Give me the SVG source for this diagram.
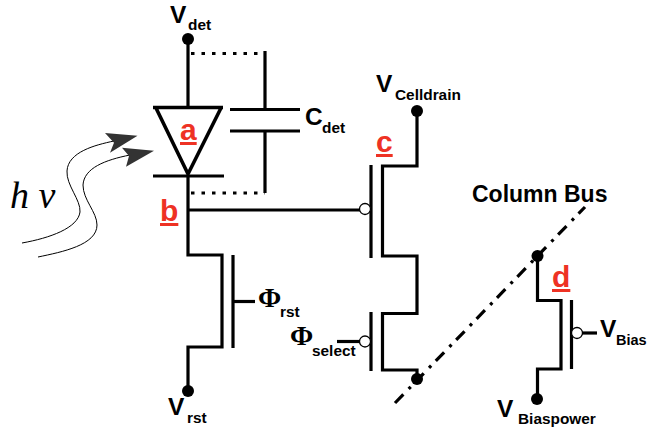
<svg xmlns="http://www.w3.org/2000/svg" width="647" height="429" viewBox="0 0 647 429">
<style>
.w{fill:none;stroke:#000;stroke-width:3.2;stroke-linejoin:miter;stroke-linecap:butt}
.d{fill:#000}
.o{fill:#fff;stroke:#000;stroke-width:1.3}
.dot{fill:none;stroke:#000;stroke-width:3;stroke-dasharray:3.5 7}
text{font-family:"Liberation Sans",Arial,sans-serif;font-weight:700;fill:#000}
.V{font-size:24.5px}
.s{font-size:15.4px}
.r{font-size:30px;fill:#ee3224;text-decoration:underline}
.p{font-family:"Liberation Serif","Times New Roman",serif;font-size:28px}
.ray{fill:none;stroke:#000;stroke-width:1}
.head{fill:#333}
.hv{font-family:"Liberation Serif","Times New Roman",serif;font-size:38px;font-style:italic;font-weight:400}
</style>
<rect width="647" height="429" fill="#fff"/>
<g id="connectors">
<path class="w" d="M188 40V107"/>
<path class="w" d="M188 175V255H222V347H188V390"/>
<path class="w" d="M188 210H360"/>
<path class="w" d="M417 110V166H382.500V256H417V313.500H382.500V370H417V380"/>
<path class="w" d="M537.500 256V300.500H561V369H537.500V398"/>
<path class="dot" d="M191 53.500H265"/>
<path class="dot" d="M191 193H265"/>
<path class="w" d="M265 51V110M265 131V193"/>
<path class="w" d="M337 341.500H360"/>
<path class="w" d="M233 301.500H255"/>
<path class="w" d="M581 333H597"/>
<path fill="none" stroke="#000" stroke-width="3.200" stroke-dasharray="12 7.600 3 6.700" d="M395 403L585 207"/>
</g>
<g id="node-vdet"><circle class="d" cx="188" cy="39" r="6"/><text class="V" x="170" y="22.500">V</text><text class="s" x="188" y="30">det</text></g>
<g id="node-diode"><path fill="none" stroke="#000" stroke-width="3.600" d="M153 107.500H223M156 108L188 174L221 108"/><path class="w" d="M153 176H224"/><text class="r" x="180" y="140">a</text></g>
<g id="node-cdet"><path class="w" d="M230 109.500H300M230 131H300"/><text class="V" x="305" y="125">C</text><text class="s" x="322" y="133">det</text></g>
<g id="node-b"><text class="r" x="160" y="221">b</text></g>
<g id="node-rst"><path class="w" d="M233 255V348"/><text class="p" x="258" y="307">Φ</text><text class="s" x="280" y="316.500">rst</text></g>
<g id="node-vrst"><circle class="d" cx="188" cy="391" r="6"/><text class="V" x="168" y="415">V</text><text class="s" x="187" y="423">rst</text></g>
<g id="node-c"><path class="w" d="M371 165V258"/><circle class="o" cx="365" cy="209" r="5.500"/><text class="r" x="376" y="152">c</text></g>
<g id="node-select"><path class="w" d="M371 312V371"/><circle class="o" cx="365" cy="341.500" r="5.500"/><text class="p" x="290" y="345">Φ</text><text class="s" x="312" y="356">select</text></g>
<g id="node-vcell"><circle class="d" cx="417" cy="111" r="6"/><text class="V" x="376" y="92">V</text><text class="s" x="395" y="99.500">Celldrain</text></g>
<g id="node-bus-end"><circle class="d" cx="417" cy="379" r="6"/></g>
<g id="node-bus-top"><circle class="d" cx="537.500" cy="256" r="6"/><text x="472" y="202" font-size="23">Column Bus</text></g>
<g id="node-d"><path class="w" d="M571.500 300V369"/><circle class="o" cx="577" cy="333" r="5.500"/><text class="r" x="552" y="287">d</text></g>
<g id="node-vbias"><text class="V" x="600" y="337">V</text><text class="s" x="616" y="345" style="font-size:14.500px">Bias</text></g>
<g id="node-vbiaspower"><circle class="d" cx="537" cy="399" r="6"/><text class="V" x="497" y="417">V</text><text class="s" x="518" y="424">Biaspower</text></g>
<g id="node-light">
<path class="ray" d="M22 243C50 238 78 228 80 212C81 200 66 185 67 171C68 152 95 145 114 141"/>
<path class="ray" d="M38 257C62 252 97 245 97 225C97 212 83 200 83 185C84 168 105 160 130 155"/>
<path class="head" d="M105 133L137.500 135.700L110 152.700L114 142.700Z"/>
<path class="head" d="M122 147.700L154 150.700L126 166.700L129 156Z"/>
<text class="hv" x="10" y="208">h v</text>
</g>
</svg>
